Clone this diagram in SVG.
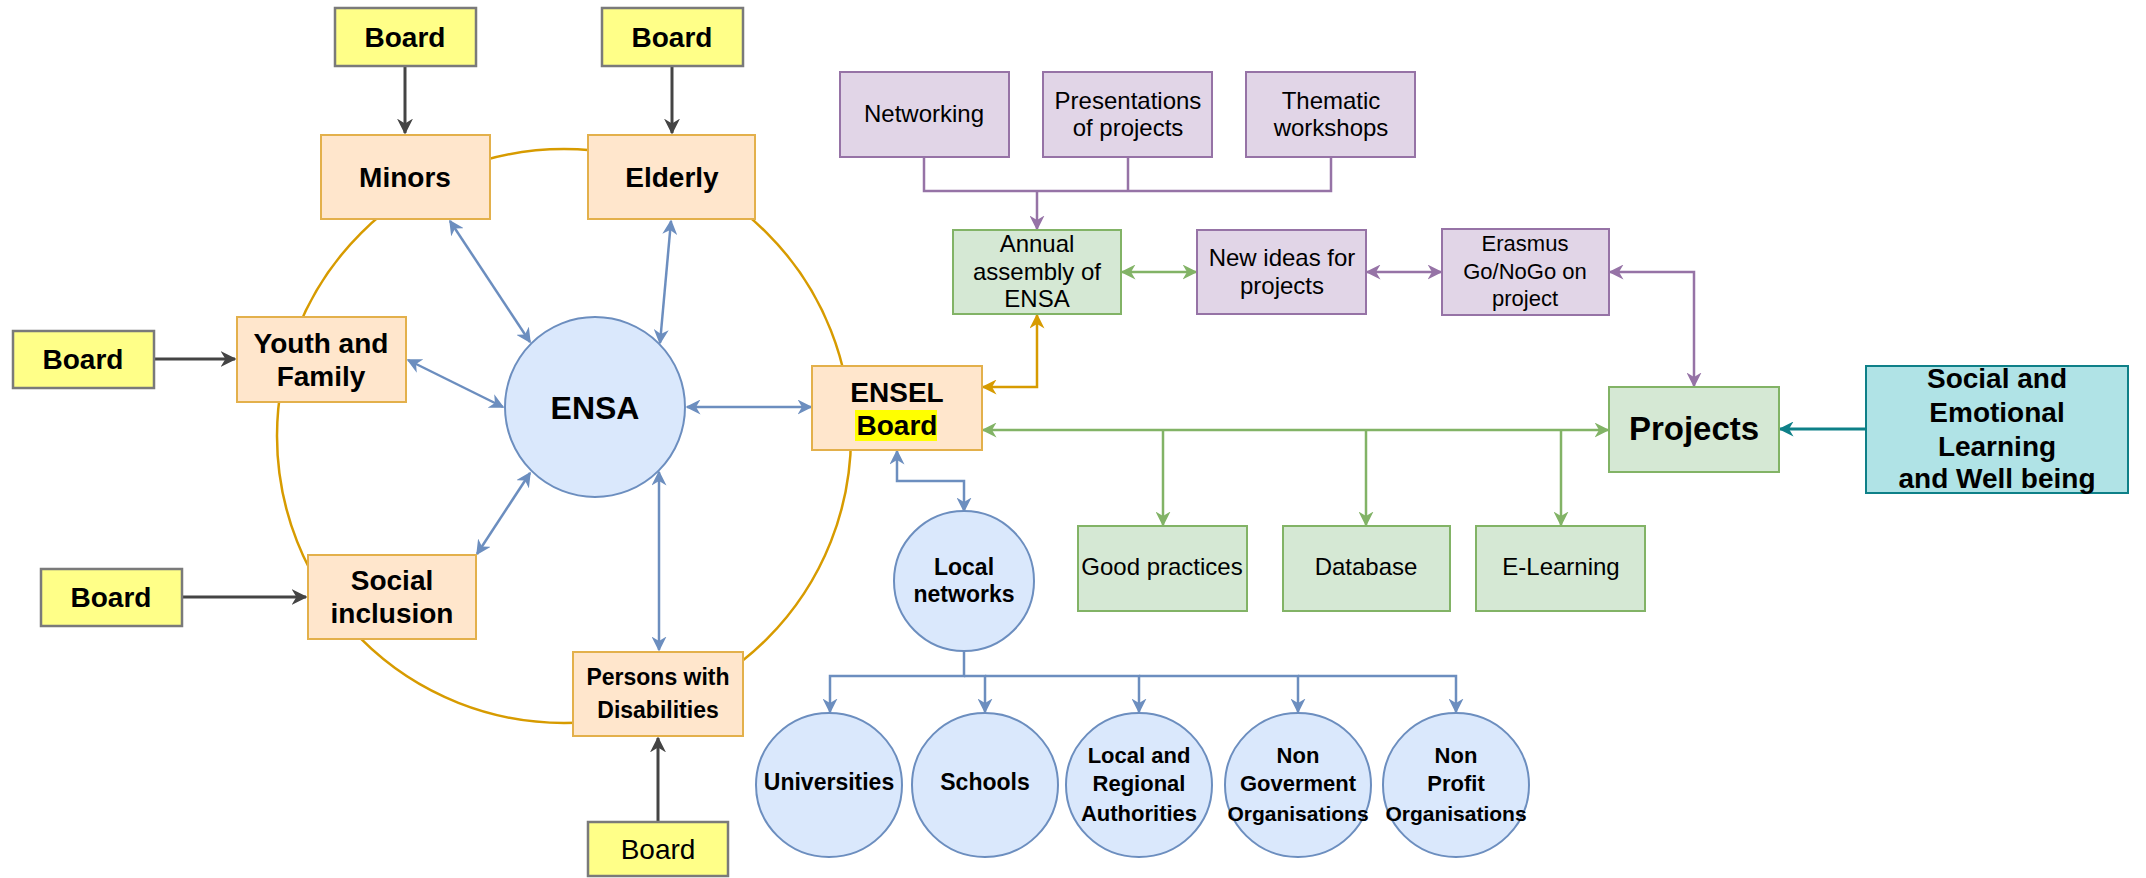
<svg xmlns="http://www.w3.org/2000/svg" width="2146" height="878" viewBox="0 0 2146 878">
<style>
text{font-family:"Liberation Sans",Arial,sans-serif;fill:#000;text-anchor:middle;dominant-baseline:central}
.b{font-weight:bold}
.board{fill:#FFFF88;stroke:#7a7a7a;stroke-width:2.5}
.org{fill:#FFE6CC;stroke:#E3B04B;stroke-width:2}
.blu{fill:#DAE8FC;stroke:#6C8EBF;stroke-width:2}
.pur{fill:#E1D5E7;stroke:#9673A6;stroke-width:2}
.grn{fill:#D5E8D4;stroke:#82B366;stroke-width:2}
.teal{fill:#B0E3E6;stroke:#0E8088;stroke-width:2}
.c{fill:none;stroke-width:2.5}
.cd{stroke:#444;stroke-width:3;marker-end:url(#ad)}
.cb{stroke:#6C8EBF}
.cp{stroke:#9673A6}
.cg{stroke:#82B366}
.co{stroke:#D79B00}
.ct{stroke:#0E8088;stroke-width:3}
.t24{font-size:24px}
.t22{font-size:22px}
.t28{font-size:28px}
</style>
<defs>
<marker id="ad" viewBox="0 0 10 10" refX="9" refY="5" markerWidth="16" markerHeight="16" markerUnits="userSpaceOnUse" orient="auto-start-reverse"><path d="M0,0 L10,5 L0,10 L3,5 z" fill="#444"/></marker>
<marker id="ab" viewBox="0 0 10 10" refX="9" refY="5" markerWidth="15" markerHeight="15" markerUnits="userSpaceOnUse" orient="auto-start-reverse"><path d="M0,0 L10,5 L0,10 L3,5 z" fill="#6C8EBF"/></marker>
<marker id="ap" viewBox="0 0 10 10" refX="9" refY="5" markerWidth="15" markerHeight="15" markerUnits="userSpaceOnUse" orient="auto-start-reverse"><path d="M0,0 L10,5 L0,10 L3,5 z" fill="#9673A6"/></marker>
<marker id="ag" viewBox="0 0 10 10" refX="9" refY="5" markerWidth="15" markerHeight="15" markerUnits="userSpaceOnUse" orient="auto-start-reverse"><path d="M0,0 L10,5 L0,10 L3,5 z" fill="#82B366"/></marker>
<marker id="ao" viewBox="0 0 10 10" refX="9" refY="5" markerWidth="15" markerHeight="15" markerUnits="userSpaceOnUse" orient="auto-start-reverse"><path d="M0,0 L10,5 L0,10 L3,5 z" fill="#D79B00"/></marker>
<marker id="at" viewBox="0 0 10 10" refX="9" refY="5" markerWidth="15" markerHeight="15" markerUnits="userSpaceOnUse" orient="auto-start-reverse"><path d="M0,0 L10,5 L0,10 L3,5 z" fill="#0E8088"/></marker>
</defs>
<rect width="2146" height="878" fill="#fff"/>
<circle id="ring" cx="564" cy="436" r="287" fill="none" stroke="#D79B00" stroke-width="2.5"/>
<g id="connectors" class="c">
<path class="cd" d="M405,66 V133"/>
<path class="cd" d="M672,66 V133"/>
<path class="cd" d="M154,359 H235"/>
<path class="cd" d="M182,597 H306"/>
<path class="cd" d="M658,822 V738"/>
<g class="cb" style="marker-start:url(#ab);marker-end:url(#ab)">
<path d="M450,221 L530,342"/>
<path d="M671,221 L660,343"/>
<path d="M408,360 L503,407"/>
<path d="M477,554 L530,473"/>
<path d="M659,650 V472"/>
<path d="M687,407 H811"/>
<path d="M897,451 V481 H964 V511"/>
</g>
<g class="cb" style="marker-end:url(#ab)">
<path d="M964,651 V676 H830 V712"/>
<path d="M964,676 H985 V712"/>
<path d="M985,676 H1139 V712"/>
<path d="M1139,676 H1298 V712"/>
<path d="M1298,676 H1456 V712"/>
</g>
<g class="cp">
<path d="M924,157 V191 H1331 V157"/>
<path d="M1128,157 V191"/>
<path d="M1037,191 V229" style="marker-end:url(#ap)"/>
<path d="M1367,272 H1441" style="marker-start:url(#ap);marker-end:url(#ap)"/>
<path d="M1610,272 H1694 V386" style="marker-start:url(#ap);marker-end:url(#ap)"/>
</g>
<g class="cg">
<path d="M1122,272 H1196" style="marker-start:url(#ag);marker-end:url(#ag)"/>
<path d="M983,430 H1608" style="marker-start:url(#ag);marker-end:url(#ag)"/>
<path d="M1163,430 V525" style="marker-end:url(#ag)"/>
<path d="M1366,430 V525" style="marker-end:url(#ag)"/>
<path d="M1561,430 V525" style="marker-end:url(#ag)"/>
</g>
<path class="co" d="M1037,315 V387 H983" style="marker-start:url(#ao);marker-end:url(#ao)"/>
<path class="ct" d="M1866,429 H1780" style="marker-end:url(#at)"/>
</g>
<g id="board1"><rect class="board" x="335" y="8" width="141" height="58"/><text class="b t28" x="405" y="37">Board</text></g>
<g id="board2"><rect class="board" x="602" y="8" width="141" height="58"/><text class="b t28" x="672" y="37">Board</text></g>
<g id="board3"><rect class="board" x="13" y="331" width="141" height="57"/><text class="b t28" x="83" y="359">Board</text></g>
<g id="board4"><rect class="board" x="41" y="569" width="141" height="57"/><text class="b t28" x="111" y="597">Board</text></g>
<g id="board5"><rect class="board" x="588" y="822" width="140" height="54"/><text class="t28" x="658" y="849">Board</text></g>
<g id="minors"><rect class="org" x="321" y="135" width="169" height="84"/><text class="b t28" x="405" y="177">Minors</text></g>
<g id="elderly"><rect class="org" x="588" y="135" width="167" height="84"/><text class="b t28" x="672" y="177">Elderly</text></g>
<g id="youth"><rect class="org" x="237" y="317" width="169" height="85"/><text class="b t28" x="321" y="343">Youth and</text><text class="b t28" x="321" y="376">Family</text></g>
<g id="social"><rect class="org" x="308" y="555" width="168" height="84"/><text class="b t28" x="392" y="580">Social</text><text class="b t28" x="392" y="613">inclusion</text></g>
<g id="persons"><rect class="org" x="573" y="652" width="170" height="84"/><text class="b" style="font-size:23px" x="658" y="677">Persons with</text><text class="b" style="font-size:23px" x="658" y="710">Disabilities</text></g>
<g id="ensa"><circle class="blu" cx="595" cy="407" r="90"/><text class="b" style="font-size:32px" x="595" y="408">ENSA</text></g>
<g id="ensel"><rect class="org" x="812" y="366" width="170" height="84"/><rect x="855" y="410" width="82" height="31" fill="#FFFF00"/><text class="b t28" x="897" y="392">ENSEL</text><text class="b t28" x="897" y="425">Board</text></g>
<g id="networking"><rect class="pur" x="840" y="72" width="169" height="85"/><text class="t24" x="924" y="113">Networking</text></g>
<g id="presentations"><rect class="pur" x="1043" y="72" width="169" height="85"/><text class="t24" x="1128" y="100">Presentations</text><text class="t24" x="1128" y="127">of projects</text></g>
<g id="thematic"><rect class="pur" x="1246" y="72" width="169" height="85"/><text class="t24" x="1331" y="100">Thematic</text><text class="t24" x="1331" y="127">workshops</text></g>
<g id="annual"><rect class="grn" x="953" y="230" width="168" height="84"/><text class="t24" x="1037" y="243">Annual</text><text class="t24" x="1037" y="271">assembly of</text><text class="t24" x="1037" y="298">ENSA</text></g>
<g id="newideas"><rect class="pur" x="1197" y="230" width="169" height="84"/><text class="t24" x="1282" y="257">New ideas for</text><text class="t24" x="1282" y="285">projects</text></g>
<g id="erasmus"><rect class="pur" x="1442" y="229" width="167" height="86"/><text class="t22" x="1525" y="243">Erasmus</text><text class="t22" x="1525" y="271">Go/NoGo on</text><text class="t22" x="1525" y="298">project</text></g>
<g id="projects"><rect class="grn" x="1609" y="387" width="170" height="85"/><text class="b" style="font-size:33px" x="1694" y="428">Projects</text></g>
<g id="sel"><rect class="teal" x="1866" y="366" width="262" height="127"/><text class="b t28" x="1997" y="378">Social and</text><text class="b t28" x="1997" y="412">Emotional</text><text class="b t28" x="1997" y="446">Learning</text><text class="b t28" x="1997" y="478">and Well being</text></g>
<g id="goodpractices"><rect class="grn" x="1078" y="526" width="169" height="85"/><text class="t24" x="1162" y="566">Good practices</text></g>
<g id="database"><rect class="grn" x="1283" y="526" width="167" height="85"/><text class="t24" x="1366" y="566">Database</text></g>
<g id="elearning"><rect class="grn" x="1476" y="526" width="169" height="85"/><text class="t24" x="1561" y="566">E-Learning</text></g>
<g id="localnetworks"><circle class="blu" cx="964" cy="581" r="70"/><text class="b" style="font-size:23px" x="964" y="567">Local</text><text class="b" style="font-size:23px" x="964" y="594">networks</text></g>
<g id="universities"><ellipse class="blu" cx="829" cy="785" rx="73" ry="72"/><text class="b" style="font-size:23px" x="829" y="782">Universities</text></g>
<g id="schools"><ellipse class="blu" cx="985" cy="785" rx="73" ry="72"/><text class="b" style="font-size:23px" x="985" y="782">Schools</text></g>
<g id="authorities"><ellipse class="blu" cx="1139" cy="785" rx="73" ry="72"/><text class="b t22" x="1139" y="755">Local and</text><text class="b t22" x="1139" y="783">Regional</text><text class="b t22" x="1139" y="813">Authorities</text></g>
<g id="ngo"><ellipse class="blu" cx="1298" cy="785" rx="73" ry="72"/><text class="b t22" x="1298" y="755">Non</text><text class="b t22" x="1298" y="783">Goverment</text><text class="b" style="font-size:21px" x="1298" y="813">Organisations</text></g>
<g id="npo"><ellipse class="blu" cx="1456" cy="785" rx="73" ry="72"/><text class="b t22" x="1456" y="755">Non</text><text class="b t22" x="1456" y="783">Profit</text><text class="b" style="font-size:21px" x="1456" y="813">Organisations</text></g>
</svg>
